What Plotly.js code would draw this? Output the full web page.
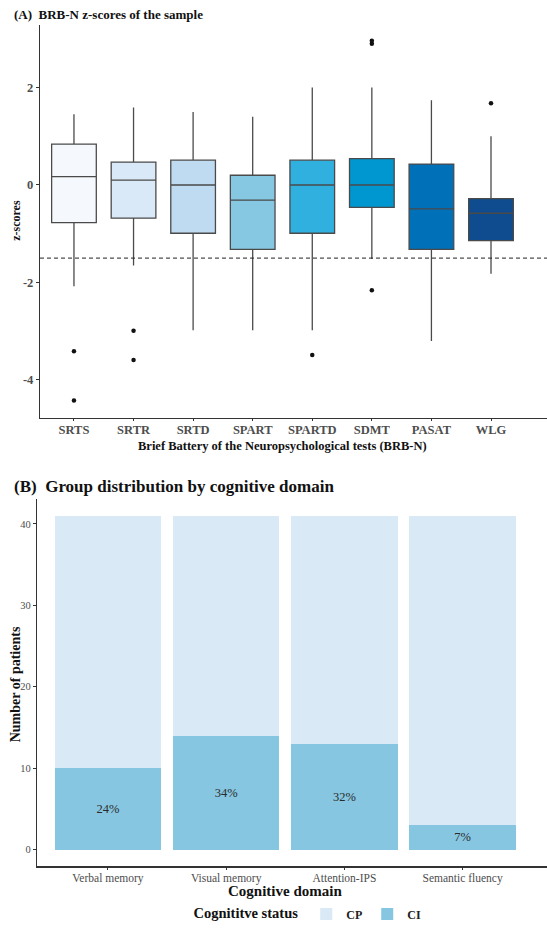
<!DOCTYPE html>
<html>
<head>
<meta charset="utf-8">
<script src="https://cdn.plot.ly/plotly-3.0.1.min.js"></script>
<style>
html,body{margin:0;padding:0;background:#fff;}
#chart{width:547px;height:929px;}
</style>
</head>
<body>
<div id="chart"></div>
<script>
// ---------- Panel A data (box plots) ----------
const tests = ["SRTS","SRTR","SRTD","SPART","SPARTD","SDMT","PASAT","WLG"];
const q1 =        [-0.77, -0.68, -0.99, -1.32, -0.99, -0.46, -1.32, -1.14];
const medians =   [ 0.17,  0.10,  0.00, -0.31,  0.00,  0.00, -0.49, -0.58];
const q3 =        [ 0.84,  0.47,  0.51,  0.20,  0.51,  0.54,  0.43, -0.28];
const lowerWhisk =[-2.08, -1.65, -2.98, -2.98, -2.98, -1.52, -3.20, -1.82];
const upperWhisk =[ 1.45,  1.59,  1.50,  1.40,  2.00,  2.00,  1.74,  1.00];
const boxColors = ["#f5f9fd","#dae9f7","#bfdbf2","#86c7e2","#30b0de","#0096d0","#0070b8","#0f4b8f"];
const outlierTest = ["SRTS","SRTS","SRTR","SRTR","SPARTD","SDMT","SDMT","SDMT","WLG"];
const outlierZ =    [-3.41, -4.42, -2.99, -3.59, -3.49, 2.90, 2.96, -2.16, 1.68];
const cutoff = [-1.5];

// ---------- Panel B data (stacked bars) ----------
const domains = ["Verbal memory","Visual memory","Attention-IPS","Semantic fluency"];
const ciCounts = [10, 14, 13, 3];
const cpCounts = [31, 27, 28, 38];
const ciLabels = ["24%","34%","32%","7%"];

const W = 547, H = 929;
const px = v => v / W;
const py = v => 1 - v / H;

const serif = "Liberation Serif, Times New Roman, serif";
const grey = "#4d4d4d";

const traces = [];
tests.forEach((t, i) => {
  traces.push({
    type: "box", x: [t], q1: [q1[i]], median: [medians[i]], q3: [q3[i]],
    lowerfence: [lowerWhisk[i]], upperfence: [upperWhisk[i]],
    width: 0.75, whiskerwidth: 0, fillcolor: boxColors[i],
    line: {color: "#4a4a4a", width: 1.3}, boxpoints: false,
    xaxis: "x", yaxis: "y", showlegend: false, hoverinfo: "skip"
  });
});
traces.push({
  type: "scatter", mode: "markers", x: outlierTest, y: outlierZ,
  marker: {color: "#111", size: 4.5}, xaxis: "x", yaxis: "y",
  showlegend: false, hoverinfo: "skip"
});
traces.push({
  type: "bar", name: "CI", x: domains, y: ciCounts, width: 0.9,
  marker: {color: "#86c6e0"}, text: ciLabels, textposition: "inside",
  insidetextanchor: "middle", textangle: 0,
  textfont: {family: serif, size: 12.5, color: "#2b2b2b"},
  xaxis: "x2", yaxis: "y2", hoverinfo: "skip"
});
traces.push({
  type: "bar", name: "CP", x: domains, y: cpCounts, width: 0.9,
  marker: {color: "#d9e9f6"}, textposition: "none",
  xaxis: "x2", yaxis: "y2", hoverinfo: "skip"
});

const layout = {
  width: W, height: H,
  margin: {l: 0, r: 0, t: 0, b: 0},
  paper_bgcolor: "#fff", plot_bgcolor: "#fff",
  barmode: "stack", boxmode: "overlay",
  showlegend: true,
  legend: {
    orientation: "h", x: 0.565, xanchor: "center", y: py(919), yanchor: "middle",
    traceorder: "reversed",
    title: {text: "Cognititve status", side: "left", font: {family: serif, size: 14.5, weight: "bold", color: "#111"}},
    font: {family: serif, size: 12, weight: "bold", color: "#222"},
    itemwidth: 30, tracegroupgap: 0
  },
  xaxis: {
    domain: [px(40), 1], type: "category", categoryarray: tests, categoryorder: "array",
    range: [-0.57, 7.94], showgrid: false, zeroline: false,
    showline: true, linecolor: "#333", linewidth: 1.2,
    ticks: "outside", ticklen: 2, tickcolor: "#333", ticklabelstandoff: -2,
    tickfont: {family: serif, size: 12.5, weight: "bold", color: grey},
    anchor: "y"
  },
  yaxis: {
    domain: [py(420), py(25)], range: [-4.776, 3.286],
    tickvals: [-4, -2, 0, 2], ticktext: ["-4", "-2", "0", "2"],
    showgrid: false, zeroline: false,
    showline: true, linecolor: "#333", linewidth: 1.2,
    ticks: "outside", ticklen: 3, tickcolor: "#333",
    tickfont: {family: serif, size: 12.5, weight: "bold", color: grey},
    anchor: "x"
  },
  xaxis2: {
    domain: [px(37), 1], type: "category", categoryarray: domains, categoryorder: "array",
    range: [-0.6, 3.714], showgrid: false, zeroline: false,
    showline: true, linecolor: "#333", linewidth: 1.2,
    ticks: "outside", ticklen: 2, tickcolor: "#333", ticklabelstandoff: -1,
    tickfont: {family: serif, size: 11.5, color: grey},
    anchor: "y2"
  },
  yaxis2: {
    domain: [py(871), py(501.7)], range: [-2.05, 43.05],
    tickvals: [0, 10, 20, 30, 40],
    showgrid: false, zeroline: false,
    showline: true, linecolor: "#333", linewidth: 1.2,
    ticks: "outside", ticklen: 3, tickcolor: "#333",
    tickfont: {family: serif, size: 10.5, color: grey},
    anchor: "x2"
  },
  shapes: [{
    type: "line", xref: "x domain", x0: 0, x1: 1, yref: "y", y0: cutoff[0], y1: cutoff[0],
    line: {color: "#222", width: 1, dash: "4px,3px"}
  }],
  annotations: [
    {text: "(A)  BRB-N z-scores of the sample", xref: "paper", yref: "paper",
     x: px(12), y: py(15), xanchor: "left", yanchor: "middle", showarrow: false,
     font: {family: serif, size: 13, weight: "bold", color: "#111"}},
    {text: "Brief Battery of the Neuropsychological tests (BRB-N)", xref: "paper", yref: "paper",
     x: px(282), y: py(448), xanchor: "center", yanchor: "middle", showarrow: false,
     font: {family: serif, size: 12.5, weight: "bold", color: "#111"}},
    {text: "z-scores", xref: "paper", yref: "paper", textangle: -90,
     x: px(16), y: py(222), xanchor: "center", yanchor: "middle", showarrow: false,
     font: {family: serif, size: 12, weight: "bold", color: "#111"}},
    {text: "(B)  Group distribution by cognitive domain", xref: "paper", yref: "paper",
     x: px(12), y: py(489), xanchor: "left", yanchor: "middle", showarrow: false,
     font: {family: serif, size: 17, weight: "bold", color: "#111"}},
    {text: "Cognitive domain", xref: "paper", yref: "paper",
     x: px(285), y: py(896), xanchor: "center", yanchor: "middle", showarrow: false,
     font: {family: serif, size: 15, weight: "bold", color: "#111"}},
    {text: "Number of patients", xref: "paper", yref: "paper", textangle: -90,
     x: px(15), y: py(688), xanchor: "center", yanchor: "middle", showarrow: false,
     font: {family: serif, size: 14, weight: "bold", color: "#111"}}
  ]
};

Plotly.newPlot("chart", traces, layout, {displayModeBar: false, staticPlot: true});
</script>
</body>
</html>
